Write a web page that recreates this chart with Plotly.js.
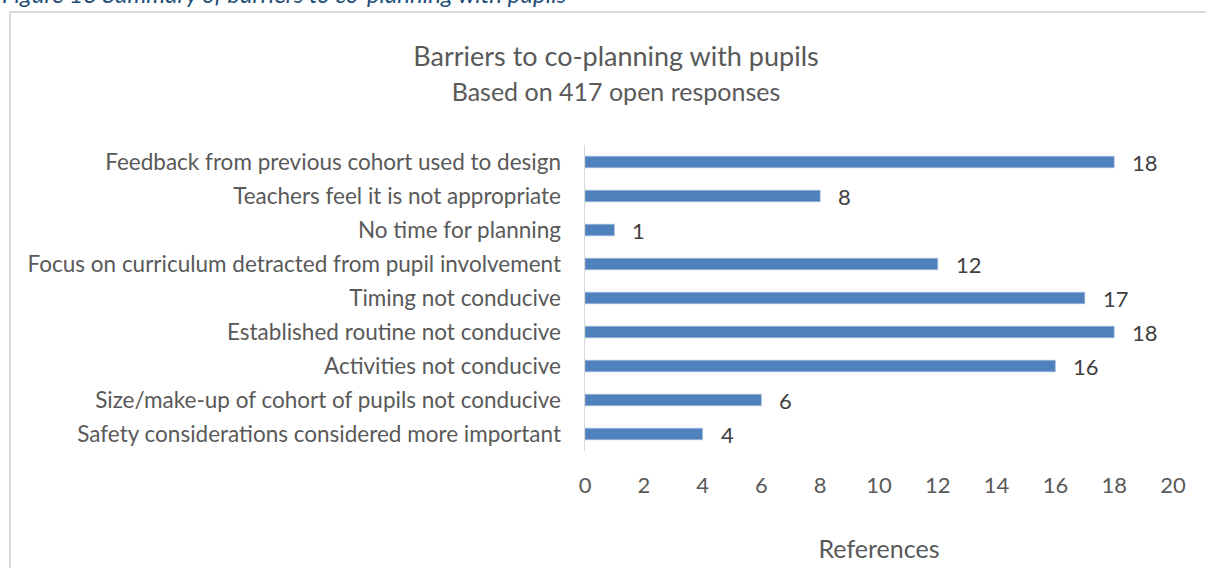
<!DOCTYPE html>
<html>
<head>
<meta charset="utf-8">
<script src="https://cdn.plot.ly/plotly-3.0.1.min.js"></script>
<style>
  html, body { margin: 0; padding: 0; background: #ffffff; }
  #chart { width: 1206px; height: 568px; }
</style>
</head>
<body>
<div id="chart"></div>
<script>
const categories = [
  "Feedback from previous cohort used to design",
  "Teachers feel it is not appropriate",
  "No time for planning",
  "Focus on curriculum detracted from pupil involvement",
  "Timing not conducive",
  "Established routine not conducive",
  "Activities not conducive",
  "Size/make-up of cohort of pupils not conducive",
  "Safety considerations considered more important"
];
const references = [18, 8, 1, 12, 17, 18, 16, 6, 4];
const xTicks = [0, 2, 4, 6, 8, 10, 12, 14, 16, 18, 20];

const chartTitle = "Barriers to co-planning with pupils";
const chartSubtitle = "Based on 417 open responses";
const xAxisTitle = "References";
const figureCaption = "Figure 13 Summary of barriers to co-planning with pupils";

const FONT = "Lato, 'Open Sans', sans-serif";
const TXT = "#595959";

// plot area geometry (pixels)
const L = 585, R = 33, T = 145, B = 117;
const W = 1206 - L - R, H = 568 - T - B;
const px2x = p => (p - L) / W;
const py2y = p => (568 - B - p) / H;

const trace = {
  type: "bar",
  orientation: "h",
  x: references,
  y: categories,
  marker: { color: "#4F81BD", line: { color: "#A9C0DE", width: 0.6 } },
  hoverinfo: "x+y",
  cliponaxis: false
};

const valueLabels = categories.map((c, i) => ({
  x: references[i], y: c, xref: "x", yref: "y",
  text: String(references[i]), showarrow: false,
  xanchor: "left", yanchor: "middle", xshift: 16,
  font: { family: FONT, size: 22, color: "#404040" }
}));

const layout = {
  width: 1206, height: 568,
  margin: { l: L, r: R, t: T, b: B, pad: 0 },
  paper_bgcolor: "#ffffff", plot_bgcolor: "#ffffff",
  showlegend: false,
  bargap: 0.66,
  font: { family: FONT, color: TXT },
  title: {
    text: chartTitle + "<br><span style='font-size:25px'>" + chartSubtitle + "</span>",
    font: { family: FONT, size: 27, color: TXT },
    xref: "container", x: 616 / 1206, xanchor: "center",
    yref: "container", y: 1 - 66 / 568, yanchor: "top"
  },
  xaxis: {
    range: [0, 20],
    tickvals: xTicks,
    ticktext: xTicks.map(String),
    showgrid: false, zeroline: false, showline: false,
    ticks: "", ticklabelstandoff: 19,
    tickfont: { family: FONT, size: 22, color: TXT },
    title: { text: xAxisTitle, font: { family: FONT, size: 25, color: TXT }, standoff: 43 },
    fixedrange: true
  },
  yaxis: {
    type: "category",
    autorange: "reversed",
    showgrid: false, zeroline: false,
    showline: true, linecolor: "#D9D9D9", linewidth: 1.5,
    ticks: "", ticklabelstandoff: 18,
    tickfont: { family: FONT, size: 22.5, color: TXT },
    fixedrange: true
  },
  shapes: [{
    type: "rect", xref: "paper", yref: "paper",
    x0: px2x(10), x1: px2x(1215), y0: py2y(580), y1: py2y(12),
    line: { color: "#D9D9D9", width: 2 }, fillcolor: "rgba(0,0,0,0)", layer: "below"
  }],
  annotations: valueLabels.concat([{
    xref: "paper", yref: "paper", x: px2x(0), y: py2y(10),
    xanchor: "left", yanchor: "bottom", showarrow: false,
    text: "<i>" + figureCaption + "</i>",
    font: { family: FONT, size: 24, color: "#1F4E79" }
  }])
};

Plotly.newPlot("chart", [trace], layout, { displayModeBar: false, staticPlot: true });
</script>
</body>
</html>
